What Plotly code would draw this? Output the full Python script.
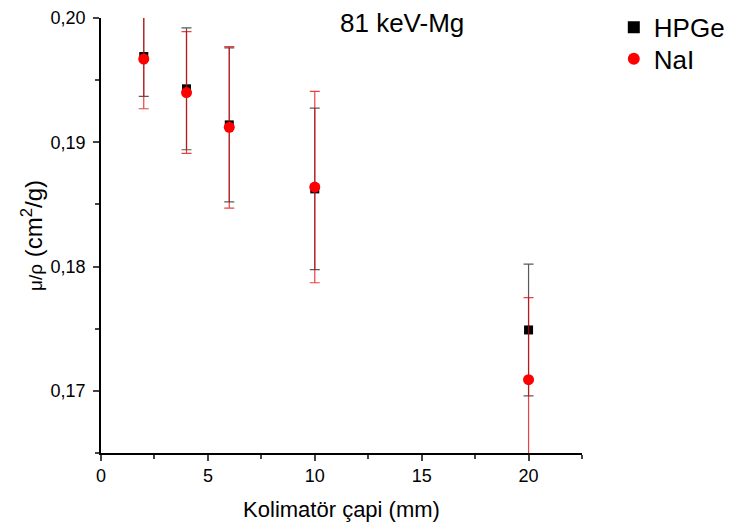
import plotly.graph_objects as go

x_vals = [2, 4, 6, 10, 20]
hpge = [0.1969, 0.1943, 0.1914, 0.18625, 0.1749]
hpge_err = [0.0032, 0.0049, 0.0062, 0.0065, 0.0053]
nai = [0.1967, 0.1940, 0.1912, 0.1864, 0.1709]
nai_err = [0.0040, 0.0049, 0.0065, 0.0077, 0.0066]

fig = go.Figure()
fig.add_trace(go.Scatter(
    x=x_vals, y=hpge, mode="markers", name="HPGe", legend="legend",
    marker=dict(symbol="square", size=9, color="black"),
    error_y=dict(type="data", array=hpge_err, visible=True,
                 color="rgba(60,60,60,0.85)", thickness=1.2, width=5),
))
fig.add_trace(go.Scatter(
    x=x_vals, y=nai, mode="markers", name="NaI", legend="legend2",
    marker=dict(symbol="circle", size=11, color="#ff0000"),
    error_y=dict(type="data", array=nai_err, visible=True,
                 color="rgba(230,0,0,0.75)", thickness=1.2, width=5),
))

font_family = "Liberation Sans, Arial, sans-serif"
leg_common = dict(xref="container", yref="container", x=0.831,
                  xanchor="left", yanchor="middle",
                  font=dict(size=26), bgcolor="rgba(0,0,0,0)",
                  itemsizing="constant")
fig.update_layout(
    width=729, height=520,
    margin=dict(l=93, r=155, t=10, b=75, autoexpand=False),
    plot_bgcolor="white", paper_bgcolor="white",
    separators=",.",
    font=dict(family=font_family, color="black", size=18),
    showlegend=True,
    legend=dict(y=0.963, **leg_common),
    legend2=dict(y=0.902, **leg_common),
    annotations=[dict(text="81 keV-Mg", x=0.626, y=0.9885, xref="paper", yref="paper",
                      xanchor="center", yanchor="middle", showarrow=False,
                      font=dict(size=26, family=font_family))],
)
fig.update_xaxes(
    range=[0, 22.5], tick0=0, dtick=5, ticks="outside", ticklen=6, tickwidth=1.5,
    showline=True, linecolor="black", linewidth=1.5, showgrid=False, zeroline=False,
    minor=dict(dtick=2.5, ticks="outside", ticklen=4, tickwidth=1.5, showgrid=False),
    title=dict(text="Kolimatör çapi (mm)", font=dict(size=22), standoff=16),
    tickfont=dict(size=18), automargin=False,
)
fig.update_yaxes(
    range=[0.165, 0.2], tick0=0.17, dtick=0.01, tickformat=".2f",
    ticks="outside", ticklen=6, tickwidth=1.5, ticklabelstandoff=4,
    showline=True, linecolor="black", linewidth=1.5, showgrid=False, zeroline=False,
    minor=dict(dtick=0.005, ticks="outside", ticklen=4, tickwidth=1.5, showgrid=False),
    title=dict(text="<span style='font-size:19px'>μ/ρ</span> (cm<sup>2</sup>/g)",
               font=dict(size=24), standoff=1),
    tickfont=dict(size=18), automargin=False,
)

fig.write_html("out.html")
